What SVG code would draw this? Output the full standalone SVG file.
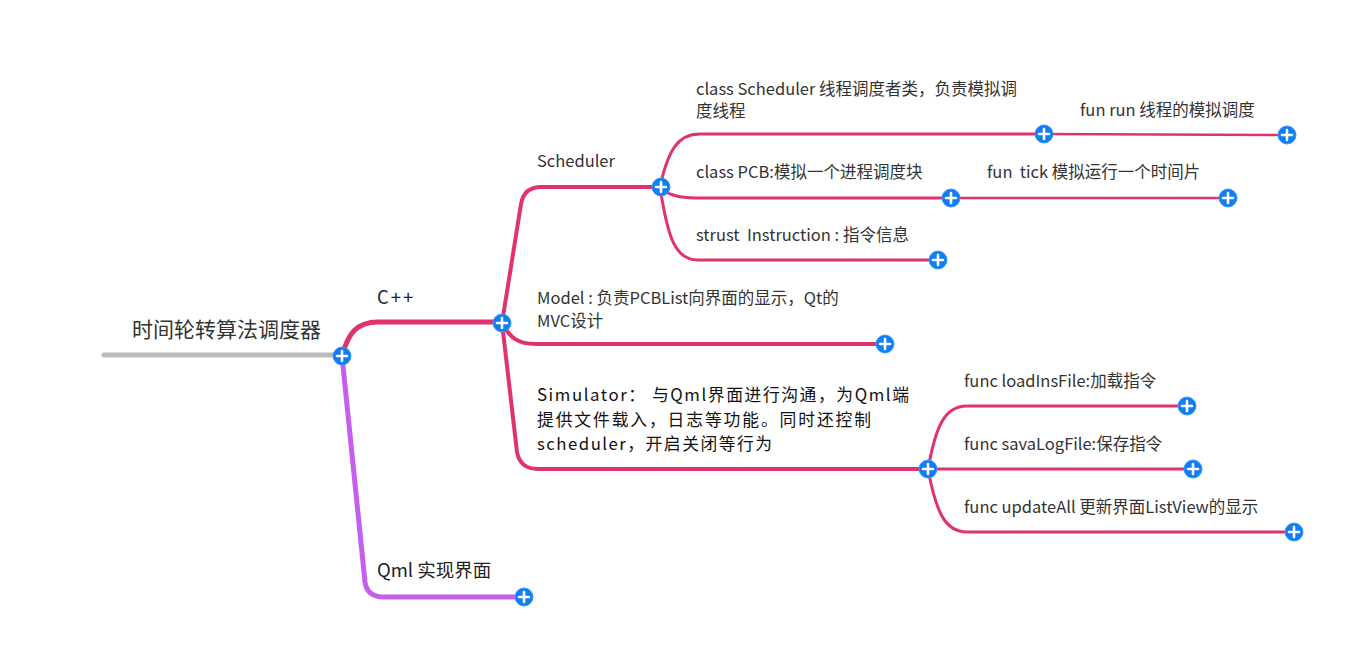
<svg xmlns="http://www.w3.org/2000/svg" width="1354" height="649" viewBox="0 0 1354 649">
<defs>
<style>
text{font-family:"Noto Sans CJK SC","Microsoft YaHei",sans-serif;fill:#333}
.l1{font-size:18.5px;fill:#222}
.l2{font-size:16.5px}
.sim{font-size:16.8px;fill:#111}
.l3{font-size:16.5px}
.root{font-size:21px}
.c{fill:none;stroke-linecap:round;stroke-linejoin:round}
.red{stroke:#e0336e}
.w5{stroke-width:5}
.w4{stroke-width:4}
.w3{stroke-width:3}
.w2{stroke-width:2.5}
</style>
<g id="btn">
<circle r="9" fill="#0f7ef5" stroke="#3a96f8" stroke-width="1"/>
<path d="M-5,0H5M0,-5V5" stroke="#fff" stroke-width="2.6" stroke-linecap="round"/>
</g>
</defs>
<rect width="1354" height="649" fill="#fff"/>
<g id="connectors">
<path class="c" d="M104,355 L342,355" stroke="#bbbbbb" stroke-width="5"/>
<path class="c red w5" d="M342,356 C348,334 356,322 378,322 L502,322"/>
<path class="c" d="M342,356 L365,582 Q367,597 384,597 L524,597" stroke="#c45ef0" stroke-width="5"/>
<path class="c red w4" d="M502,323 L521,204 Q524,187 541,187 L660,187"/>
<path class="c red w4" d="M502,323 C510,338 518,344 536,344 L884,344"/>
<path class="c red w4" d="M502,323 L517,452 Q520,469 538,469 L928,469"/>
<path class="c red w3" d="M660,187 C668,150 678,134 700,134 L1044,134"/>
<path class="c red w3" d="M660,187 C667,195 678,198 696,198 L951,198"/>
<path class="c red w3" d="M660,187 C668,240 676,260 698,260 L938,260"/>
<path class="c red w2" d="M1044,134 L1287,135"/>
<path class="c red w2" d="M951,198 L1228,198"/>
<path class="c red w3" d="M928,469 C936,425 945,406 967,406 L1187,406"/>
<path class="c red w3" d="M928,469 L1193,469"/>
<path class="c red w3" d="M928,469 C936,512 945,532 967,532 L1294,532"/>
</g>
<g id="root"><text class="root" x="132" y="337">时间轮转算法调度器</text><use href="#btn" x="342" y="356"/></g>
<g id="cpp"><text class="l1" x="377" y="304" letter-spacing="2">C++</text><use href="#btn" x="502" y="323"/></g>
<g id="qml"><text class="l1" x="377" y="577">Qml 实现界面</text><use href="#btn" x="524" y="597"/></g>
<g id="scheduler"><text class="l2" x="537" y="167">Scheduler</text><use href="#btn" x="661" y="187"/></g>
<g id="model"><text class="l2" x="537" y="304">Model : 负责PCBList向界面的显示，Qt的</text><text class="l2" x="537" y="327">MVC设计</text><use href="#btn" x="885" y="344"/></g>
<g id="simulator"><text class="sim" x="537" y="401" textLength="372" lengthAdjust="spacing">Simulator： 与Qml界面进行沟通，为Qml端</text><text class="sim" x="537" y="425.5" textLength="334" lengthAdjust="spacing">提供文件载入，日志等功能。同时还控制</text><text class="sim" x="537" y="450" textLength="235" lengthAdjust="spacing">scheduler，开启关闭等行为</text><use href="#btn" x="928" y="469"/></g>
<g id="classScheduler"><text class="l3" x="696" y="95">class Scheduler 线程调度者类，负责模拟调</text><text class="l3" x="696" y="117">度线程</text><use href="#btn" x="1044" y="134"/></g>
<g id="classPCB"><text class="l3" x="696" y="178">class PCB:模拟一个进程调度块</text><use href="#btn" x="951" y="198"/></g>
<g id="instruction"><text class="l3" x="696" y="241" xml:space="preserve">strust  Instruction : 指令信息</text><use href="#btn" x="938" y="260"/></g>
<g id="funRun"><text class="l3" x="1080" y="116">fun run 线程的模拟调度</text><use href="#btn" x="1287" y="135"/></g>
<g id="funTick"><text class="l3" x="987" y="178" xml:space="preserve">fun  tick 模拟运行一个时间片</text><use href="#btn" x="1228" y="198"/></g>
<g id="loadIns"><text class="l3" x="964" y="387">func loadInsFile:加载指令</text><use href="#btn" x="1187" y="406"/></g>
<g id="saveLog"><text class="l3" x="964" y="450">func savaLogFile:保存指令</text><use href="#btn" x="1193" y="469"/></g>
<g id="updateAll"><text class="l3" x="964" y="513">func updateAll 更新界面ListView的显示</text><use href="#btn" x="1294" y="532"/></g>
</svg>
